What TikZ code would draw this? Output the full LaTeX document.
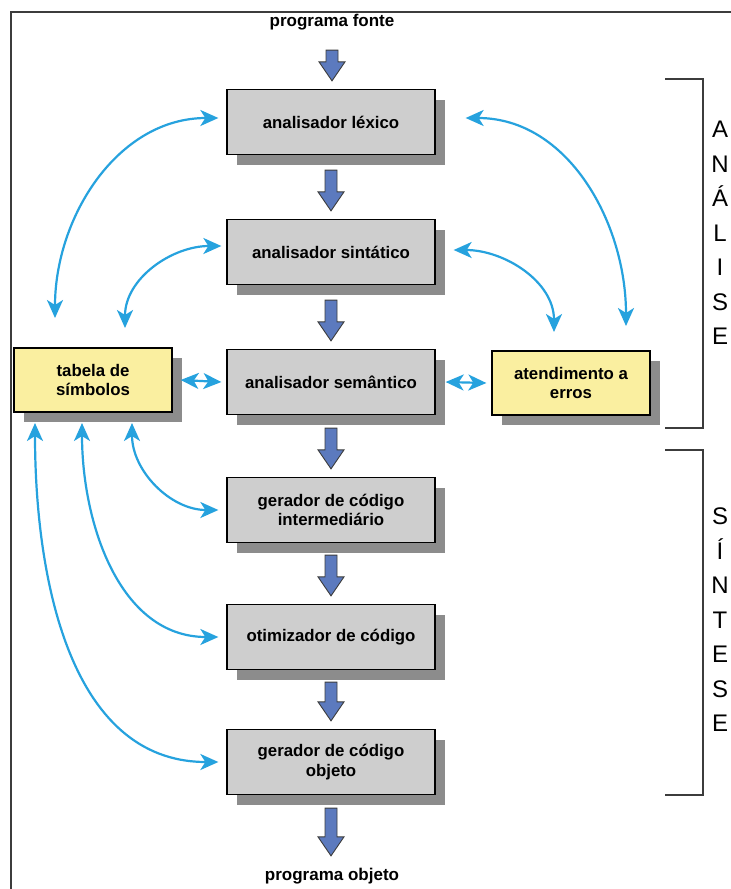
\documentclass[tikz,border=0pt]{standalone}
\usepackage{fontspec}
\setmainfont{Liberation Sans}
\usetikzlibrary{arrows.meta,calc,shadows}

\definecolor{boxgrey}{RGB}{206,206,206}
\definecolor{shadowgrey}{RGB}{140,140,140}
\definecolor{noteyellow}{RGB}{250,239,160}
\definecolor{linkblue}{RGB}{38,162,222}
\definecolor{flowblue}{RGB}{92,122,190}
\definecolor{framegrey}{RGB}{60,60,60}

\tikzset{
  stage/.style={draw=black, line width=1.3pt, fill=boxgrey,
    minimum width=208pt, minimum height=65pt, align=center,
    font=\fontsize{16.8}{19.5}\selectfont\bfseries,
    drop shadow={shadow xshift=10pt, shadow yshift=-10pt, fill=shadowgrey, opacity=1}},
  aux/.style={stage, fill=noteyellow, minimum width=158pt, minimum height=64pt},
  caption/.style={font=\fontsize{17}{20}\selectfont\bfseries, inner sep=0pt},
  phase/.style={font=\fontsize{24}{34.5}\selectfont, align=center, inner sep=0pt},
  tip/.tip={Stealth[length=18pt,width=16pt,inset=5pt]},
  link/.style={draw=linkblue, line width=2.2pt, tip-tip},
  flowarr/.style={fill=flowblue, draw=framegrey, line width=0.9pt, line join=miter},
  bracket/.style={draw=framegrey, line width=1.1pt}
}

% block arrow pointing down from #1 to #2
\newcommand\flowarrow[2]{%
  \path[flowarr] let \p1=(#1), \p2=(#2) in
    (\x1-6pt,\y1) -- (\x1-6pt,\y2+19pt) -- (\x1-13pt,\y2+19pt) -- (\x1,\y2)
    -- (\x1+13pt,\y2+19pt) -- (\x1+6pt,\y2+19pt) -- (\x1+6pt,\y1) -- cycle;}

\begin{document}
\begin{tikzpicture}[x=1pt,y=-1pt]
  \useasboundingbox (0,0) rectangle (731,889);
  \fill[white] (0,0) rectangle (731,889);
  \draw[framegrey, line width=1.4pt] (11,889) -- (11,12) -- (731,12);

  % compiler stages
  \node[caption] (pf) at (332,22) {programa fonte};
  \node[stage] (lex) at (331,122) {analisador léxico};
  \node[stage] (sin) at (331,252) {analisador sintático};
  \node[stage] (sem) at (331,382) {analisador semântico};
  \node[stage] (gci) at (331,510) {gerador de código\\intermediário};
  \node[stage] (oti) at (331,637) {otimizador de código};
  \node[stage] (gco) at (331,762) {gerador de código\\objeto};
  \node[caption] (po) at (332,876) {programa objeto};

  \node[aux] (ts) at (93,380) {tabela de\\símbolos};
  \node[aux] (ae) at (571,383) {atendimento a\\erros};

  % main flow
  \flowarrow{[yshift=-20pt]pf.south}{[yshift=8pt]lex.north}
  \flowarrow{[yshift=-15pt]lex.south}{[yshift=8pt]sin.north}
  \flowarrow{[yshift=-15pt]sin.south}{[yshift=8pt]sem.north}
  \flowarrow{[yshift=-13pt]sem.south}{[yshift=8pt]gci.north}
  \flowarrow{[yshift=-12pt]gci.south}{[yshift=8pt]oti.north}
  \flowarrow{[yshift=-12pt]oti.south}{[yshift=8pt]gco.north}
  \flowarrow{[yshift=-13pt]gco.south}{[yshift=12pt]po.north}

  % free ends of the symbol-table and error links
  \coordinate (tsA) at (55,318);
  \coordinate (tsB) at (125,328);
  \coordinate (aeA) at (626,326);
  \coordinate (aeB) at (554,332);
  \coordinate (tsC) at (132,423);
  \coordinate (tsD) at (82,423);
  \coordinate (tsE) at (35,423);

  \draw[link] ([shift={(-8pt,4pt)}]lex.west) to[out=180,in=90] (tsA);
  \draw[link] ([shift={(-5pt,6pt)}]sin.west) to[out=180,in=90] (tsB);
  \draw[link] ([shift={(30pt,4pt)}]lex.east) to[out=0,in=90] (aeA);
  \draw[link] ([shift={(18pt,2pt)}]sin.east) to[out=0,in=90] (aeB);

  \draw[link] ([xshift=8pt]ts.east) -- ([xshift=-5pt]sem.west);
  \draw[link] ([xshift=10pt]sem.east) -- ([xshift=-5pt]ae.west);

  \draw[link] (tsC) to[out=-90,in=180] ([xshift=-8pt]gci.west);
  \draw[link] (tsD) to[out=-90,in=180] ([xshift=-8pt]oti.west);
  \draw[link] (tsE) to[out=-90,in=180] ([xshift=-8pt]gco.west);

  % analysis / synthesis brackets
  \draw[bracket] (665,79) -- (703,79) -- (703,428) -- (665,428);
  \draw[bracket] (665,450) -- (703,450) -- (703,795) -- (665,795);
  \node[phase] (an) at (720,233) {A\\N\\Á\\L\\I\\S\\E};
  \node[phase] (si) at (720,620) {S\\Í\\N\\T\\E\\S\\E};
\end{tikzpicture}
\end{document}
